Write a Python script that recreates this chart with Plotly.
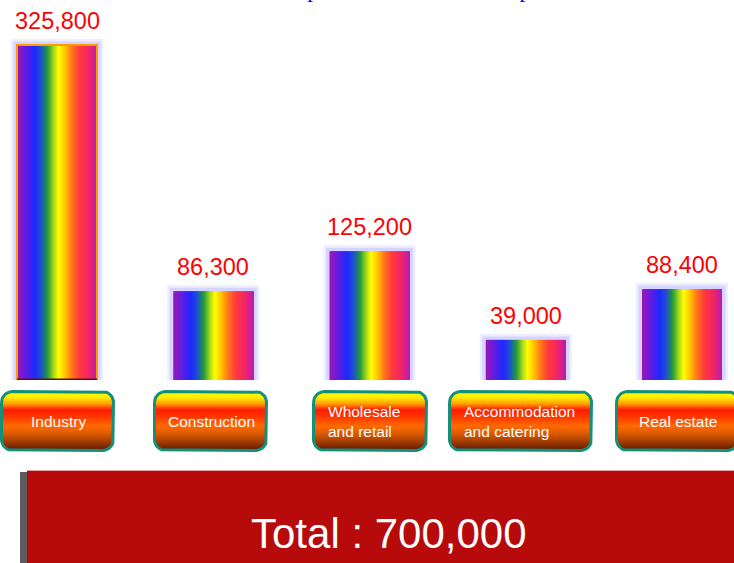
import numpy as np
import plotly.graph_objects as go

# ---------------- data ----------------
categories = ["Industry", "Construction", "Wholesale and retail",
              "Accommodation and catering", "Real estate"]
box_labels = ["Industry", "Construction", "Wholesale<br>and retail",
              "Accommodation<br>and catering", "Real estate"]
values = [325800, 86300, 125200, 39000, 88400]
total_value = 700000
title_text = "Number of enterprises in each of the top five sectors"

# ---------------- layout constants ----------------
W, H = 734, 563
BAR_W = 0.512
N_SLICES = 64
box_spans = [(0, 115), (153, 268), (312, 428), (448, 593), (615, 740)]
box_align = ["center", "center", "left", "left", "center"]
BOX_TOP, BOX_BOT = 390, 452

rainbow = [
    (0.00, (160, 21, 181)), (0.12, (90, 30, 230)), (0.22, (30, 40, 255)),
    (0.30, (30, 80, 208)), (0.38, (31, 154, 58)), (0.46, (168, 216, 26)),
    (0.52, (255, 255, 0)), (0.60, (255, 196, 0)), (0.68, (255, 122, 26)),
    (0.78, (255, 58, 58)), (0.90, (240, 36, 106)), (1.00, (184, 28, 176)),
]


def rainbow_at(t):
    for (t0, c0), (t1, c1) in zip(rainbow[:-1], rainbow[1:]):
        if t0 <= t <= t1:
            f = (t - t0) / (t1 - t0)
            c = [round(a + (b - a) * f) for a, b in zip(c0, c1)]
            return "rgb(%d,%d,%d)" % tuple(c)
    return "rgb(%d,%d,%d)" % rainbow[-1][1]


box_scale = [
    [0.00, "#ffff00"], [0.12, "#ffee00"], [0.22, "#ffa000"], [0.32, "#ff1a00"],
    [0.45, "#ff3c00"], [0.58, "#ff6a00"], [0.69, "#e05c00"],
    [0.83, "#a43e00"], [1.00, "#561000"],
]


def rounded_rect(x0, x1, y0, y1, r, n=10):
    xs, ys = [], []
    corners = [((x0 + r, y0 + r), 180, 270), ((x1 - r, y0 + r), 270, 360),
               ((x1 - r, y1 - r), 0, 90), ((x0 + r, y1 - r), 90, 180)]
    for (cx, cy), a0, a1 in corners:
        for a in np.linspace(np.radians(a0), np.radians(a1), n):
            xs.append(cx + r * np.cos(a))
            ys.append(cy + r * np.sin(a))
    xs.append(xs[0])
    ys.append(ys[0])
    return xs, ys


xpos = list(range(len(categories)))
fig = go.Figure()

# glow behind bars
for lw, col in [(12, "rgba(175,175,255,0.22)"), (7, "rgba(160,160,255,0.32)")]:
    fig.add_trace(go.Bar(x=xpos, y=values, width=BAR_W,
                         marker=dict(color="rgba(0,0,0,0)", line=dict(color=col, width=lw)),
                         hoverinfo="skip", showlegend=False))

# rainbow bars built from vertical slices
step = BAR_W / N_SLICES
for i in range(N_SLICES):
    t = (i + 0.5) / N_SLICES
    wdt = step * (1.0 if i == N_SLICES - 1 else 2.0)
    fig.add_trace(go.Bar(x=xpos, y=values, width=wdt, offset=-BAR_W / 2 + i * step,
                         marker=dict(color=rainbow_at(t), line=dict(width=0)),
                         hoverinfo="skip", showlegend=False))

# frame on the tallest bar
fig.add_trace(go.Bar(x=[xpos[0]], y=[values[0]], width=BAR_W,
                     marker=dict(color="rgba(0,0,0,0)", line=dict(color="#ff9a00", width=2)),
                     hoverinfo="skip", showlegend=False))
fig.add_shape(type="line", xref="x", yref="y", x0=xpos[0] - BAR_W / 2, x1=xpos[0] + BAR_W / 2,
              y0=0, y1=0, line=dict(color="#6b0d0d", width=3))

# value labels
for x, v in zip(xpos, values):
    fig.add_annotation(x=x, y=v, xref="x", yref="y", text=f"{v:,}", showarrow=False,
                       yanchor="bottom", yshift=9,
                       font=dict(family="Arial, Liberation Sans", size=23.5, color="#ff0000"))

# category boxes (pixel overlay axes)
for (x0, x1), lab, al in zip(box_spans, box_labels, box_align):
    bx, by = rounded_rect(x0 + 1.5, x1 - 1.5, BOX_TOP + 1.5, BOX_BOT - 1.5, 11)
    fig.add_trace(go.Scatter(x=bx, y=by, xaxis="x2", yaxis="y2", mode="lines",
                             fill="toself",
                             fillgradient=dict(type="vertical", colorscale=box_scale,
                                               start=BOX_TOP, stop=BOX_BOT),
                             line=dict(color="#14907a", width=3),
                             hoverinfo="skip", showlegend=False))
    if al == "center":
        ax, xa = (x0 + x1) / 2 + 0.5, "center"
    else:
        ax, xa = x0 + 14, "left"
    fig.add_annotation(x=ax, y=(BOX_TOP + BOX_BOT) / 2, xref="x2", yref="y2", text=lab,
                       showarrow=False, xanchor=xa, yanchor="middle", align="left",
                       font=dict(family="Arial, Liberation Sans", size=15.5, color="white"))

# total panel
fig.add_shape(type="rect", xref="x2", yref="y2", x0=27, x1=W + 5, y0=470, y1=H + 5,
              fillcolor="#b70b0b", line=dict(width=0), layer="below")
fig.add_shape(type="line", xref="x2", yref="y2", x0=27, x1=W + 5, y0=470.5, y1=470.5,
              line=dict(color="#e8a0a0", width=1))
fig.add_shape(type="rect", xref="x2", yref="y2", x0=20, x1=27, y0=472, y1=H + 5,
              fillcolor="#5c5c5c", line=dict(width=0))
fig.add_annotation(x=389, y=533, xref="x2", yref="y2", text=f"Total : {total_value:,}",
                   showarrow=False, xanchor="center", yanchor="middle",
                   font=dict(family="Arial, Liberation Sans", size=42, color="white"))

# clipped title at the top
fig.add_annotation(x=150, y=4, xref="x2", yref="y2", text=title_text, showarrow=False,
                   xanchor="left", yanchor="bottom",
                   font=dict(family="Liberation Serif, Times New Roman", size=23.5, color="#0000ff"))

fig.update_layout(
    width=W, height=H, margin=dict(l=0, r=0, t=0, b=0),
    paper_bgcolor="white", plot_bgcolor="rgba(0,0,0,0)",
    barmode="overlay", showlegend=False,
    xaxis=dict(domain=[0, 1], range=[-57 / 156.25, 677 / 156.25], visible=False,
               fixedrange=True, anchor="y"),
    yaxis=dict(domain=[183 / 563, 1], range=[0, 369560], visible=False,
               fixedrange=True, anchor="x"),
    xaxis2=dict(domain=[0, 1], range=[0, W], visible=False, fixedrange=True, anchor="y2"),
    yaxis2=dict(domain=[0, 1], range=[H, 0], visible=False, fixedrange=True, anchor="x2"),
)

fig.write_html("out.html", config={"displayModeBar": False},
               post_script="document.body.style.margin='0px';document.body.style.padding='0px';")
